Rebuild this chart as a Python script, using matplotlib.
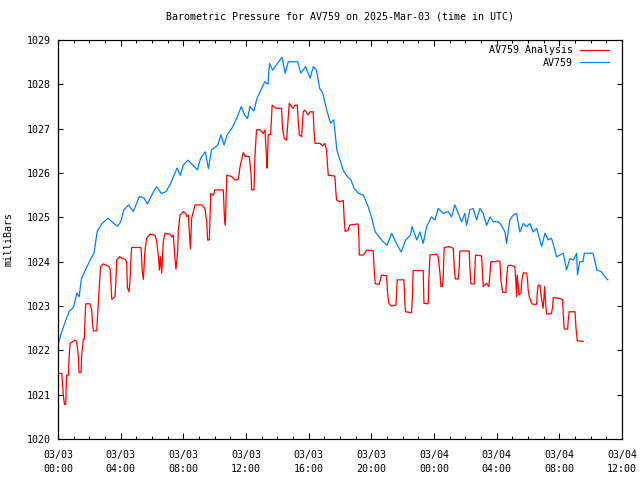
import matplotlib
matplotlib.use("Agg")
from matplotlib import pyplot as plt
from matplotlib.ticker import MultipleLocator

# hours since 2025-03-03 00:00 UTC, pressure in mb
obs_hours = [0.0, 0.2, 0.5, 0.7, 1.0, 1.2, 1.35, 1.5, 1.8, 2.1, 2.3, 2.5, 2.8, 3.2, 3.5, 3.8,
             4.0, 4.2, 4.5, 4.8, 5.2, 5.5, 5.7, 6.1, 6.3, 6.6, 6.9, 7.2, 7.6, 7.8, 8.0, 8.3,
             8.6, 8.9, 9.1, 9.4, 9.6, 9.8, 10.2, 10.4, 10.6, 10.8, 11.1, 11.4, 11.7, 11.9,
             12.1, 12.25, 12.5, 12.7, 12.9, 13.2, 13.4, 13.5, 13.7, 14.0, 14.3, 14.5, 14.7,
             15.0, 15.3, 15.5, 15.8, 16.1, 16.3, 16.5, 16.7, 16.9, 17.15, 17.4, 17.6, 17.8,
             18.0, 18.2, 18.4, 18.7, 18.9, 19.2, 19.5, 19.8, 20.0, 20.25, 20.5, 20.75, 21.0,
             21.3, 21.6, 21.9, 22.2, 22.5, 22.6, 22.9, 23.1, 23.31, 23.53, 23.84, 24.06,
             24.27, 24.59, 24.91, 25.12, 25.33, 25.55, 25.76, 25.97, 26.08, 26.29, 26.5,
             26.72, 26.93, 27.14, 27.36, 27.57, 27.78, 28.1, 28.31, 28.53, 28.63, 28.84,
             29.06, 29.27, 29.48, 29.7, 29.91, 30.12, 30.33, 30.55, 30.76, 30.87, 31.08,
             31.29, 31.5, 31.72, 31.82, 32.25, 32.46, 32.67, 32.9, 33.1, 33.16, 33.3, 33.5,
             33.6, 34.15, 34.4, 34.7, 34.9, 35.1]
obs_mb = [1022.12, 1022.38, 1022.68, 1022.87, 1022.98, 1023.29, 1023.21, 1023.62, 1023.85,
          1024.07, 1024.19, 1024.68, 1024.86, 1024.98, 1024.88, 1024.80, 1024.90, 1025.17,
          1025.28, 1025.13, 1025.47, 1025.43, 1025.30, 1025.58, 1025.69, 1025.54, 1025.58,
          1025.77, 1026.11, 1025.95, 1026.18, 1026.29, 1026.18, 1026.07, 1026.33, 1026.48,
          1026.10, 1026.52, 1026.63, 1026.86, 1026.63, 1026.86, 1027.01, 1027.23, 1027.50,
          1027.31, 1027.23, 1027.50, 1027.40, 1027.68, 1027.83, 1028.06, 1028.00, 1028.47,
          1028.32, 1028.47, 1028.61, 1028.25, 1028.51, 1028.51, 1028.51, 1028.25, 1028.40,
          1028.14, 1028.40, 1028.32, 1027.91, 1027.80, 1027.42, 1027.12, 1027.20, 1026.52,
          1026.29, 1026.07, 1025.95, 1025.84, 1025.65, 1025.54, 1025.50, 1025.24, 1025.01,
          1024.67, 1024.56, 1024.45, 1024.37, 1024.64, 1024.41, 1024.22, 1024.49, 1024.60,
          1024.79, 1024.49, 1024.67, 1024.41, 1024.79, 1025.01, 1024.94, 1025.20, 1025.09,
          1025.13, 1025.01, 1025.28, 1025.09, 1024.90, 1025.09, 1024.82, 1025.17, 1025.20,
          1024.94, 1025.20, 1025.09, 1024.82, 1025.01, 1024.90, 1024.90, 1024.82, 1024.67,
          1024.41, 1024.94, 1025.05, 1025.09, 1024.67, 1024.86, 1024.79, 1024.86, 1024.67,
          1024.75, 1024.49, 1024.34, 1024.64, 1024.49, 1024.53, 1024.26, 1024.11, 1024.19,
          1023.81, 1024.07, 1024.04, 1024.19, 1023.70, 1024.00, 1024.00, 1024.19, 1024.19,
          1023.81, 1023.77, 1023.66, 1023.59]

ana_hours = [0.02, 0.24, 0.28, 0.34, 0.41, 0.49, 0.55, 0.66, 0.70, 0.77, 1.09, 1.19, 1.30,
             1.34, 1.47, 1.51, 1.62, 1.68, 1.72, 1.77, 2.04, 2.15, 2.21, 2.26, 2.47, 2.53,
             2.58, 2.64, 2.72, 2.89, 3.21, 3.32, 3.38, 3.43, 3.64, 3.70, 3.75, 3.92, 4.28,
             4.38, 4.43, 4.53, 4.60, 4.66, 4.70, 5.30, 5.38, 5.45, 5.51, 5.55, 5.66, 5.87,
             6.19, 6.30, 6.41, 6.47, 6.53, 6.62, 6.72, 6.83, 7.15, 7.26, 7.36, 7.47, 7.53,
             7.64, 7.68, 7.79, 8.00, 8.15, 8.21, 8.32, 8.38, 8.45, 8.53, 8.75, 9.17, 9.38,
             9.49, 9.55, 9.66, 9.75, 9.92, 10.02, 10.55, 10.62, 10.68, 10.77, 11.09, 11.30,
             11.51, 11.62, 11.83, 11.94, 12.21, 12.32, 12.36, 12.51, 12.57, 12.67, 12.89,
             13.10, 13.21, 13.27, 13.31, 13.35, 13.42, 13.57, 13.67, 13.91, 14.27, 14.33,
             14.44, 14.59, 14.70, 14.76, 14.91, 15.01, 15.12, 15.27, 15.33, 15.40, 15.55,
             15.65, 15.76, 15.97, 16.08, 16.29, 16.33, 16.40, 16.72, 16.89, 17.04, 17.14,
             17.21, 17.25, 17.67, 17.72, 17.78, 17.99, 18.21, 18.27, 18.33, 18.52, 18.63,
             19.16, 19.21, 19.23, 19.48, 19.59, 19.70, 20.12, 20.18, 20.25, 20.50, 20.65,
             20.97, 21.04, 21.12, 21.29, 21.57, 21.65, 22.08, 22.14, 22.18, 22.57, 22.63,
             22.67, 23.31, 23.36, 23.63, 23.67, 23.74, 24.16, 24.27, 24.38, 24.44, 24.53,
             24.59, 24.65, 24.97, 25.12, 25.23, 25.29, 25.36, 25.55, 25.61, 25.65, 26.25,
             26.29, 26.36, 26.57, 26.61, 26.65, 27.04, 27.10, 27.14, 27.25, 27.36, 27.50,
             27.57, 27.63, 27.89, 28.10, 28.21, 28.27, 28.38, 28.59, 28.63, 28.70, 28.89,
             29.16, 29.23, 29.27, 29.31, 29.38, 29.42, 29.55, 29.61, 29.70, 29.91, 29.97,
             30.01, 30.08, 30.19, 30.27, 30.55, 30.59, 30.65, 30.76, 30.82, 30.91, 30.97,
             31.01, 31.06, 31.10, 31.14, 31.19, 31.50, 31.57, 31.61, 32.04, 32.21, 32.25,
             32.31, 32.53, 32.57, 32.63, 33.00, 33.06, 33.14, 33.53]
ana_mb = [1021.48, 1021.48, 1021.26, 1020.99, 1020.78, 1020.78, 1021.44, 1021.44, 1021.78,
          1022.16, 1022.23, 1022.20, 1021.86, 1021.50, 1021.50, 1021.89, 1022.25, 1022.25,
          1022.65, 1023.05, 1023.05, 1022.91, 1022.57, 1022.44, 1022.44, 1022.80, 1023.10,
          1023.47, 1023.89, 1023.95, 1023.90, 1023.85, 1023.51, 1023.15, 1023.21, 1023.62,
          1024.04, 1024.11, 1024.05, 1024.00, 1023.42, 1023.32, 1023.59, 1024.08, 1024.32,
          1024.32, 1023.77, 1023.60, 1024.00, 1024.26, 1024.53, 1024.62, 1024.60, 1024.45,
          1024.11, 1023.81, 1024.11, 1023.74, 1024.45, 1024.64, 1024.62, 1024.56, 1024.60,
          1024.05, 1023.83, 1024.23, 1024.71, 1025.05, 1025.13, 1025.09, 1025.02, 1025.05,
          1024.70, 1024.29, 1024.98, 1025.28, 1025.28, 1025.20, 1024.90, 1024.49, 1024.49,
          1025.54, 1025.50, 1025.62, 1025.62, 1025.02, 1024.83, 1025.95, 1025.92, 1025.84,
          1025.86, 1026.14, 1026.46, 1026.38, 1026.37, 1025.99, 1025.62, 1025.62, 1026.37,
          1026.97, 1026.98, 1026.89, 1026.97, 1026.56, 1026.33, 1026.11, 1026.86, 1026.87,
          1027.53, 1027.46, 1027.46, 1027.01, 1026.78, 1026.74, 1027.27, 1027.57, 1027.50,
          1027.46, 1027.53, 1027.53, 1027.20, 1026.86, 1026.82, 1027.38, 1027.42, 1027.31,
          1027.38, 1027.38, 1027.01, 1026.67, 1026.67, 1026.61, 1026.67, 1026.52, 1026.14,
          1025.95, 1025.93, 1025.65, 1025.39, 1025.35, 1025.38, 1024.94, 1024.68, 1024.71,
          1024.83, 1024.85, 1024.49, 1024.15, 1024.15, 1024.19, 1024.26, 1024.25, 1023.81,
          1023.50, 1023.49, 1023.70, 1023.68, 1023.29, 1023.06, 1023.00, 1023.02, 1023.59,
          1023.59, 1023.06, 1022.87, 1022.85, 1023.32, 1023.80, 1023.80, 1023.06, 1023.05,
          1023.59, 1024.15, 1024.17, 1024.11, 1023.74, 1023.44, 1023.44, 1023.66, 1024.32,
          1024.34, 1024.32, 1024.30, 1023.89, 1023.61, 1023.61, 1023.89, 1024.24, 1024.24,
          1023.85, 1023.50, 1023.50, 1023.81, 1024.15, 1024.13, 1023.74, 1023.44, 1023.47,
          1023.51, 1023.44, 1023.70, 1024.00, 1024.00, 1024.02, 1024.00, 1023.59, 1023.31,
          1023.31, 1023.59, 1023.90, 1023.92, 1023.89, 1023.51, 1023.21, 1023.70, 1023.44,
          1023.25, 1023.29, 1023.59, 1023.75, 1023.74, 1023.59, 1023.36, 1023.21, 1023.10,
          1023.04, 1023.04, 1023.29, 1023.47, 1023.47, 1023.29, 1023.06, 1022.95, 1023.14,
          1023.44, 1023.21, 1022.98, 1022.82, 1022.83, 1022.98, 1023.19, 1023.17, 1023.14,
          1022.83, 1022.48, 1022.48, 1022.68, 1022.87, 1022.87, 1022.53, 1022.22, 1022.20]

xtick_hours = [0, 4, 8, 12, 16, 20, 24, 28, 32, 36]
xtick_labels = ["03/03\n00:00", "03/03\n04:00", "03/03\n08:00", "03/03\n12:00",
                "03/03\n16:00", "03/03\n20:00", "03/04\n00:00", "03/04\n04:00",
                "03/04\n08:00", "03/04\n12:00"]

plt.rcParams['font.family'] = ['DejaVu Sans Mono']
plt.rcParams['font.size'] = 7.2

fig = plt.figure(figsize=(6.4, 4.8), dpi=100)
ax = fig.add_axes([58/640, 1 - 439/480, 564/640, 399/480])

ax.plot(ana_hours, ana_mb, color="#ff0000", lw=0.9, label="AV759 Analysis")
ax.plot(obs_hours, obs_mb, color="#0080ff", lw=0.9, label="AV759")

ax.set_xlim(0, 36)
ax.set_ylim(1020, 1029)
ax.set_xticks(xtick_hours)
ax.set_xticklabels(xtick_labels, linespacing=1.5)
ax.xaxis.set_minor_locator(MultipleLocator(1))
ax.yaxis.set_major_locator(MultipleLocator(1))
ax.yaxis.set_major_formatter(matplotlib.ticker.FormatStrFormatter('%d'))

ax.tick_params(which='both', direction='in', top=True, right=True, width=0.75, colors='black')
ax.tick_params(axis='x', which='major', length=4.5, pad=8)
ax.tick_params(axis='x', which='minor', length=2.2)
ax.tick_params(axis='y', which='major', length=3.8, pad=5)
for s in ax.spines.values():
    s.set_linewidth(0.9)

ax.set_ylabel("milliBars", labelpad=10)
ax.set_title("Barometric Pressure for AV759 on 2025-Mar-03 (time in UTC)", fontsize=7.2, pad=15)

ax.legend(loc='upper right', bbox_to_anchor=(0.977, 0.987), frameon=False, markerfirst=False,
          handlelength=2.9, handletextpad=0.7, labelspacing=0.25, borderaxespad=0, borderpad=0)

fig.savefig("out.png", dpi=100)
